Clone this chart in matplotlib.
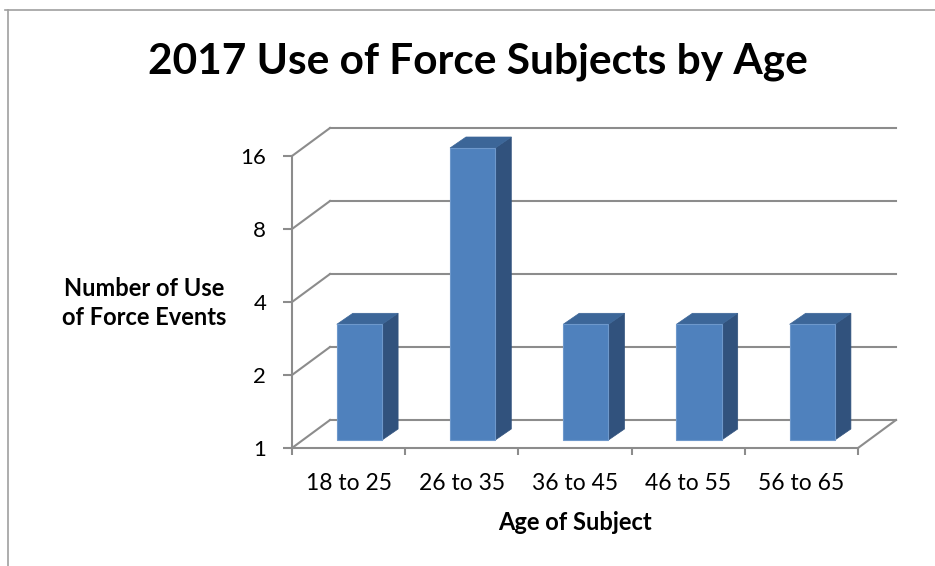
import matplotlib.pyplot as plt
from matplotlib.patches import Polygon
from matplotlib.lines import Line2D
from matplotlib.transforms import IdentityTransform, offset_copy

# data
categories = ['18 to 25', '26 to 35', '36 to 45', '46 to 55', '56 to 65']
events = [3, 16, 3, 3, 3]
y_ticks = [1, 2, 4, 8, 16]

# colors
front_blue = '#4F81BD'
top_blue = '#3C6698'
side_blue = '#31527D'
grid_grey = '#8C8C8C'

plt.rcParams['font.family'] = ['Lato', 'DejaVu Sans']

W, H = 935, 566
fig = plt.figure(figsize=(W / 100, H / 100), dpi=100)
fig.patch.set_facecolor('white')

# front plane of the fake 3D box
ax = fig.add_axes([292 / W, 1 - 448 / H, (858 - 292) / W, (448 - 156) / H])
ax.set_yscale('log', base=2)
ax.set_ylim(1, 16)
ax.set_xlim(0, len(categories))
ax.patch.set_alpha(0)

# depth offsets in pixels (display coords, y up)
wall_dx, wall_dy = 38, 28
front_frac = 8 / 28
bar_dx, bar_dy = 16, 11
bar_width = 0.4


def disp(x, y, dx=0, dy=0):
    px, py = ax.transData.transform((x, y))
    return (px + dx, py + dy)


# back wall gridlines + left wall diagonals
for t in y_ticks:
    ax.add_artist(Line2D(*zip(disp(0, t, wall_dx, wall_dy), disp(len(categories), t, wall_dx, wall_dy)),
                         transform=IdentityTransform(), color=grid_grey, lw=1.5, zorder=1, clip_on=False))
    ax.add_artist(Line2D(*zip(disp(0, t), disp(0, t, wall_dx, wall_dy)),
                         transform=IdentityTransform(), color=grid_grey, lw=1.5, zorder=1, clip_on=False))
# floor right edge
ax.add_artist(Line2D(*zip(disp(len(categories), 1), disp(len(categories), 1, wall_dx, wall_dy)),
                     transform=IdentityTransform(), color=grid_grey, lw=1.5, zorder=1, clip_on=False))

# bars
fdx, fdy = wall_dx * front_frac, wall_dy * front_frac
front_trans = offset_copy(ax.transData, fig=fig, x=fdx, y=fdy, units='dots')
xs = [i + 0.5 for i in range(len(categories))]
for x, v in zip(xs, events):
    xl, xr = x - bar_width / 2, x + bar_width / 2
    side = [disp(xr, 1, fdx, fdy), disp(xr, v, fdx, fdy),
            disp(xr, v, fdx + bar_dx, fdy + bar_dy), disp(xr, 1, fdx + bar_dx, fdy + bar_dy)]
    top = [disp(xl, v, fdx, fdy), disp(xr, v, fdx, fdy),
           disp(xr, v, fdx + bar_dx, fdy + bar_dy), disp(xl, v, fdx + bar_dx, fdy + bar_dy)]
    ax.add_artist(Polygon(side, closed=True, transform=IdentityTransform(), facecolor=side_blue,
                          edgecolor=side_blue, lw=0.5, zorder=3, clip_on=False))
    ax.add_artist(Polygon(top, closed=True, transform=IdentityTransform(), facecolor=top_blue,
                          edgecolor=top_blue, lw=0.5, zorder=3, clip_on=False))
ax.bar(xs, [v - 1 for v in events], bottom=1, width=bar_width, color=front_blue,
       edgecolor='#6E98CB', linewidth=0.8, transform=front_trans, zorder=4, clip_on=False)

# axes styling
for s in ['top', 'right']:
    ax.spines[s].set_visible(False)
for s in ['left', 'bottom']:
    ax.spines[s].set_color(grid_grey)
    ax.spines[s].set_linewidth(1.5)
    ax.spines[s].set_zorder(2)

ax.set_yticks(y_ticks)
ax.set_yticklabels([str(t) for t in y_ticks])
ax.yaxis.set_minor_locator(plt.NullLocator())
ax.tick_params(axis='y', which='major', length=6.5, width=1.5, color=grid_grey,
               labelsize=16, pad=12)

ax.set_xticks(xs)
ax.set_xticklabels(categories)
ax.set_xticks(range(len(categories) + 1), minor=True)
ax.tick_params(axis='x', which='major', length=0, labelsize=16.5, pad=18)
ax.tick_params(axis='x', which='minor', length=5, width=1.5, color=grid_grey)

ax.set_ylabel('Number of Use\nof Force Events', rotation=0, fontsize=17, fontweight='bold',
              ha='center', va='center', linespacing=1.3)
ax.yaxis.set_label_coords((144 - 292) / 566, (448 - 303) / 292)
ax.set_xlabel('Age of Subject', fontsize=17, fontweight='bold', va='center')
ax.xaxis.set_label_coords(0.5, (448 - 522) / 292)

fig.text(478 / W, 1 - 62 / H, '2017 Use of Force Subjects by Age', ha='center', va='center',
         fontsize=30.5, fontweight='bold')

# outer frame
fig.add_artist(Line2D([5 / W, 1], [1 - 10 / H, 1 - 10 / H], transform=fig.transFigure,
                      color='#A0A0A0', lw=1.2))
fig.add_artist(Line2D([8 / W, 8 / W], [1 - 10 / H, 0], transform=fig.transFigure,
                      color='#A0A0A0', lw=1.2))

fig.savefig('out.png', dpi=100)
